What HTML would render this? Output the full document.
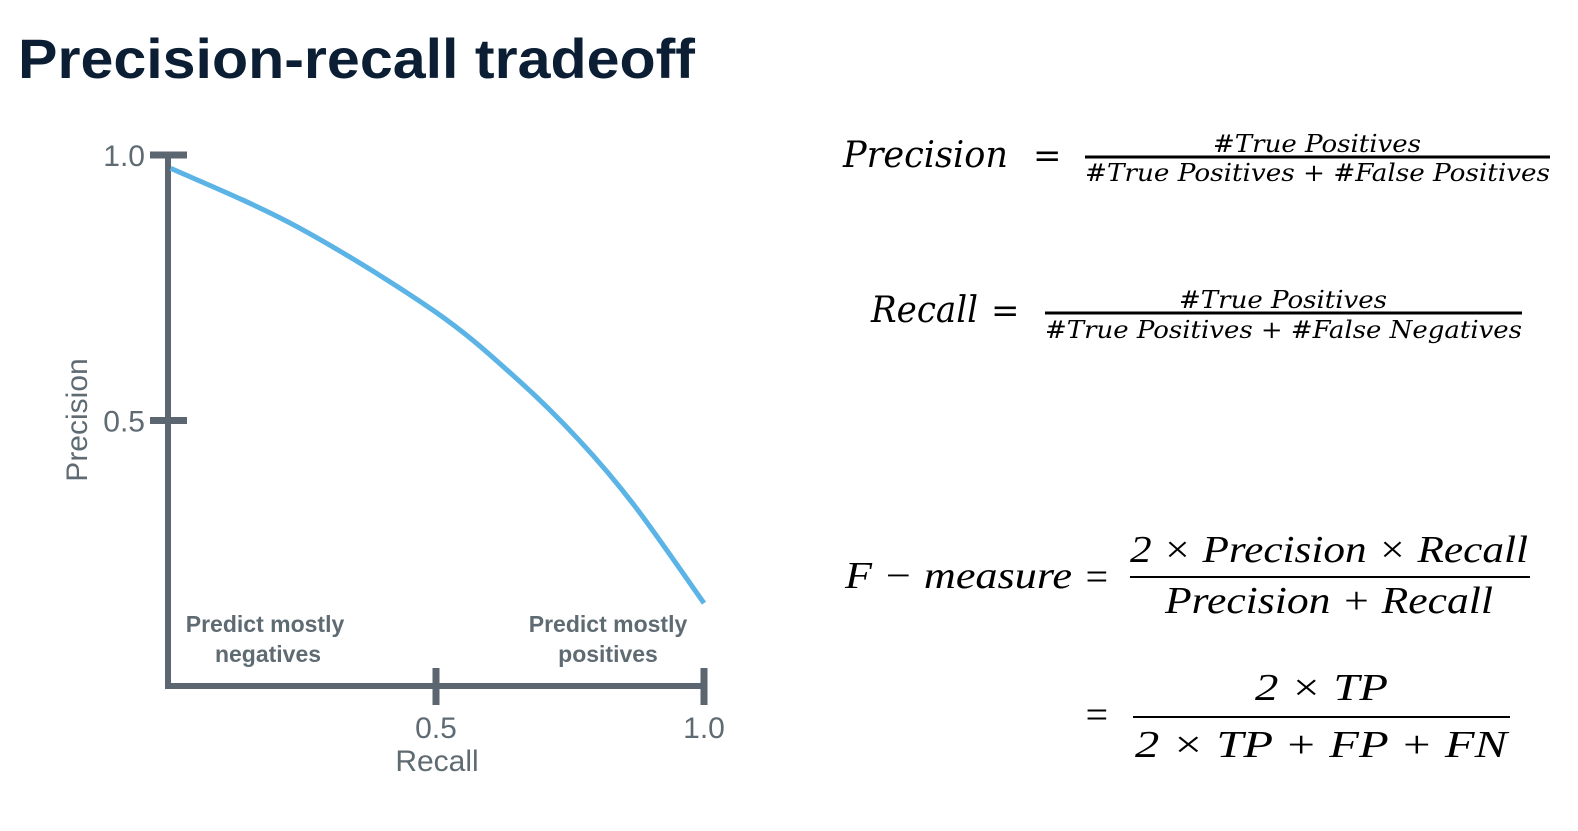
<!DOCTYPE html>
<html><head><meta charset="utf-8"><style>
html,body{margin:0;padding:0;background:#fff;}
svg{display:block;}
.ax{font-family:"Liberation Sans",sans-serif;fill:#5f6b73;}
.f1{font-family:"DejaVu Serif",serif;font-style:italic;fill:#000;}
.f2{font-family:"Liberation Serif",serif;font-style:italic;fill:#000;}
</style></head><body>
<svg id="page" width="1578" height="831" viewBox="0 0 1578 831" xmlns="http://www.w3.org/2000/svg">
<text x="18" y="78" font-family="Liberation Sans, sans-serif" font-weight="bold" font-size="56" fill="#0b1e33" textLength="677" lengthAdjust="spacingAndGlyphs">Precision-recall tradeoff</text>

<g id="chart"></g>

<g>
<text class="f1" x="843" y="167" font-size="36" textLength="165" lengthAdjust="spacingAndGlyphs">Precision</text>
<text class="f1" x="1033" y="167" font-size="34" font-style="normal">=</text>
<text class="f1" x="1317" y="152" font-size="24" text-anchor="middle" textLength="208" lengthAdjust="spacingAndGlyphs">#True Positives</text>
<rect x="1085" y="155.5" width="465" height="3" fill="#000"/>
<text class="f1" x="1085" y="181" font-size="24" textLength="465" lengthAdjust="spacingAndGlyphs">#True Positives + #False Positives</text>
</g>
<g>
<text class="f1" x="871" y="322" font-size="36" textLength="107" lengthAdjust="spacingAndGlyphs">Recall</text>
<text class="f1" x="991" y="322" font-size="34" font-style="normal">=</text>
<text class="f1" x="1283" y="308" font-size="24" text-anchor="middle" textLength="208" lengthAdjust="spacingAndGlyphs">#True Positives</text>
<rect x="1045" y="311.5" width="477" height="3" fill="#000"/>
<text class="f1" x="1045" y="338" font-size="24" textLength="477" lengthAdjust="spacingAndGlyphs">#True Positives + #False Negatives</text>
</g>
<g>
<text class="f2" x="845" y="588" font-size="38" textLength="227" lengthAdjust="spacingAndGlyphs">F − measure</text>
<text class="f2" x="1083" y="590" font-size="40" font-style="normal">=</text>
<text class="f2" x="1130" y="562" font-size="38" textLength="398" lengthAdjust="spacingAndGlyphs">2 × Precision × Recall</text>
<rect x="1130" y="576" width="400" height="2" fill="#000"/>
<text class="f2" x="1165" y="613" font-size="38" textLength="328" lengthAdjust="spacingAndGlyphs">Precision + Recall</text>
<text class="f2" x="1083" y="728" font-size="40" font-style="normal">=</text>
<text class="f2" x="1255" y="700" font-size="38" textLength="133" lengthAdjust="spacingAndGlyphs">2 × TP</text>
<rect x="1133" y="716" width="377" height="2" fill="#000"/>
<text class="f2" x="1135" y="757" font-size="38" textLength="372" lengthAdjust="spacingAndGlyphs">2 × TP + FP + FN</text>
</g>
</svg>
<script>
const recall=[0.005,0.239,0.494,0.647,0.767,0.87,1.0];
const precision=[0.975,0.866,0.708,0.582,0.463,0.34,0.156];
const xTicks=[0.5,1.0];
const xTickLabels=["0.5","1.0"];
const yTicks=[0.5,1.0];
const yTickLabels=["0.5","1.0"];
const NS="http://www.w3.org/2000/svg";
const X0=168,X1=704,Y0=686,Y1=155;
function sx(v){return X0+(X1-X0)*v;}
function sy(v){return Y0-(Y0-Y1)*v;}
const g=document.getElementById('chart');
function mk(t,a){const e=document.createElementNS(NS,t);for(const k in a)e.setAttribute(k,a[k]);g.appendChild(e);return e;}
let e;
e=mk('line',{x1:X0,y1:Y1-3,x2:X0,y2:Y0+3,stroke:'#5c6670','stroke-width':6});


e=mk('line',{x1:X0-3,y1:Y0,x2:X1,y2:Y0,stroke:'#5c6670','stroke-width':6});


yTicks.forEach((v,i)=>{
 e=mk('line',{x1:150,y1:sy(v),x2:187,y2:sy(v),stroke:'#5c6670','stroke-width':7});
 
 
 e=mk('text',{x:145,y:sy(v)+11,'font-size':30,'text-anchor':'end',class:'ax'});e.textContent=yTickLabels[i];
 
 
});
xTicks.forEach((v,i)=>{
 e=mk('line',{x1:sx(v),y1:668,x2:sx(v),y2:705,stroke:'#5c6670','stroke-width':7});
 
 
 e=mk('text',{x:sx(v),y:738,'font-size':30,'text-anchor':'middle',class:'ax'});e.textContent=xTickLabels[i];
 
 
});
e=mk('text',{x:437,y:771,'font-size':30,'text-anchor':'middle',class:'ax'});e.textContent='Recall';


e=mk('text',{x:0,y:0,'font-size':30,'text-anchor':'middle',class:'ax',transform:'translate(87,420) rotate(-90)'});e.textContent='Precision';


[['Predict mostly',265,632],['negatives',268,662],['Predict mostly',608,632],['positives',608,662]].forEach(a=>{
 e=mk('text',{x:a[1],y:a[2],'font-size':23,'font-weight':'bold','text-anchor':'middle',class:'ax',fill:'#6d7880'});e.textContent=a[0];
 
 
});
const pts=recall.map((r,i)=>[sx(r),sy(precision[i])]);
let d='M'+pts[0][0]+','+pts[0][1];
for(let i=0;i<pts.length-1;i++){
 const p0=pts[Math.max(i-1,0)],p1=pts[i],p2=pts[i+1],p3=pts[Math.min(i+2,pts.length-1)];
 const c1=[p1[0]+(p2[0]-p0[0])/6,p1[1]+(p2[1]-p0[1])/6];
 const c2=[p2[0]-(p3[0]-p1[0])/6,p2[1]-(p3[1]-p1[1])/6];
 d+=' C'+c1.join(',')+' '+c2.join(',')+' '+p2.join(',');
}
e=mk('path',{d:d,fill:'none',stroke:'#5bb4e5','stroke-width':5});


</script>
</body></html>
